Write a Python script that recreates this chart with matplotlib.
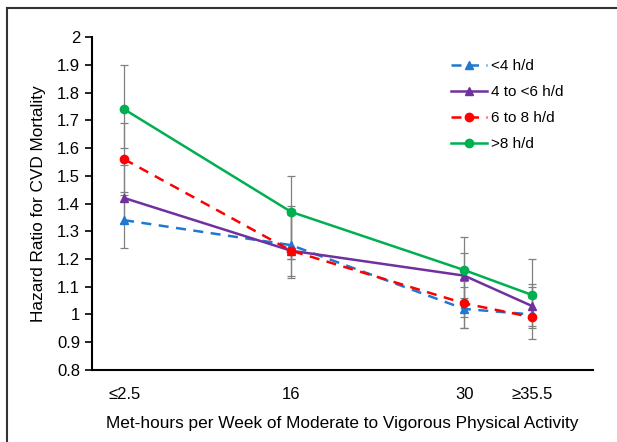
import matplotlib.pyplot as plt
from matplotlib.lines import Line2D

plt.rcParams['font.family'] = ['Liberation Sans', 'DejaVu Sans']

# data
met_hours = [2.5, 16, 30, 35.5]
tick_labels = ['≤2.5', '16', '30', '≥35.5']
groups = ['<4 h/d', '4 to <6 h/d', '6 to 8 h/d', '>8 h/d']

hr_lt4 = [1.34, 1.25, 1.02, 1.00]
hr_4to6 = [1.42, 1.23, 1.14, 1.03]
hr_6to8 = [1.56, 1.23, 1.04, 0.99]
hr_gt8 = [1.74, 1.37, 1.16, 1.07]

lo_lt4 = [1.24, 1.14, 0.95, 0.95]
hi_lt4 = [1.44, 1.38, 1.10, 1.06]
lo_4to6 = [1.33, 1.13, 1.06, 0.96]
hi_4to6 = [1.54, 1.36, 1.22, 1.11]
lo_6to8 = [1.43, 1.20, 0.95, 0.91]
hi_6to8 = [1.69, 1.39, 1.12, 1.10]
lo_gt8 = [1.60, 1.20, 0.99, 0.99]
hi_gt8 = [1.90, 1.50, 1.28, 1.20]

series = [
    (hr_lt4, lo_lt4, hi_lt4, '#1f78d1', '--', '^'),
    (hr_4to6, lo_4to6, hi_4to6, '#7030a0', '-', '^'),
    (hr_6to8, lo_6to8, hi_6to8, '#ff0000', '--', 'o'),
    (hr_gt8, lo_gt8, hi_gt8, '#00b050', '-', 'o'),
]

fig = plt.figure(figsize=(6.17, 4.42), dpi=100)
ax = fig.add_axes([0.149, 0.163, 0.812, 0.753])

# error bars first, grey, behind the lines
for hr, lo, hi, color, ls, mk in series:
    err = [[h - l for h, l in zip(hr, lo)], [u - h for h, u in zip(hr, hi)]]
    ax.errorbar(met_hours, hr, yerr=err, fmt='none', ecolor='#808080',
                elinewidth=0.9, capsize=3, capthick=0.9, zorder=1)

handles = []
for (hr, lo, hi, color, ls, mk), name in zip(series, groups):
    ax.plot(met_hours, hr, color=color, linestyle=ls, linewidth=1.8,
            dashes=(4, 3) if ls == '--' else (None, None), zorder=3)
    ax.plot(met_hours, hr, linestyle='none', marker=mk, markersize=6,
            color=color, zorder=4)
    h = Line2D([0], [0], color=color, linestyle=ls, linewidth=1.8,
               marker=mk, markersize=6)
    if ls == '--':
        h.set_dashes((4, 3))
    handles.append(h)

ax.set_xlim(-0.1, 40.4)
ax.set_ylim(0.8, 2.0)
ax.set_yticks([0.8 + 0.1 * i for i in range(13)])
ax.set_yticklabels(['0.8', '0.9', '1', '1.1', '1.2', '1.3', '1.4', '1.5',
                    '1.6', '1.7', '1.8', '1.9', '2'])
ax.set_xticks(met_hours)
ax.set_xticklabels(tick_labels)
ax.tick_params(axis='x', length=0, pad=12, labelsize=12)
ax.tick_params(axis='y', length=5, width=1.2, direction='out', labelsize=12)

for s in ['top', 'right']:
    ax.spines[s].set_visible(False)
for s in ['left', 'bottom']:
    ax.spines[s].set_linewidth(1.5)

ax.set_ylabel('Hazard Ratio for CVD Mortality', fontsize=12.4, labelpad=8)
ax.set_xlabel('Met-hours per Week of Moderate to Vigorous Physical Activity',
              fontsize=12.4, labelpad=10)

ax.legend(handles, groups, loc='upper left', bbox_to_anchor=(0.69, 0.975),
          frameon=False, fontsize=11, handlelength=2.3, labelspacing=0.78,
          handletextpad=0.3)

# outer frame (left and top edges visible in the reference)
fig.add_artist(Line2D([0.012, 0.012], [0.0, 0.983], color='#333333',
                      linewidth=1.5, transform=fig.transFigure))
fig.add_artist(Line2D([0.012, 1.0], [0.983, 0.983], color='#333333',
                      linewidth=1.5, transform=fig.transFigure))

fig.savefig('out.png', dpi=100)
